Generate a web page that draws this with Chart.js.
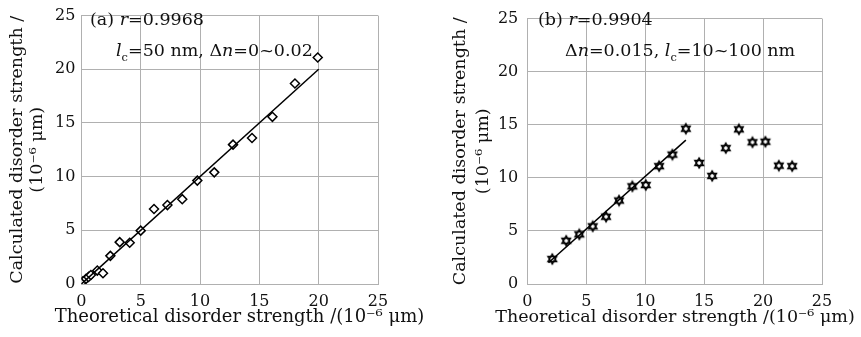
<!DOCTYPE html>
<html><head><meta charset="utf-8">
<script src="https://cdn.jsdelivr.net/npm/chart.js@4"></script>
<style>
html,body{margin:0;padding:0;background:#fff;}
#wrap{position:relative;width:861px;height:337px;overflow:hidden;background:#fff;}
canvas{position:absolute;top:0;}
</style></head><body>
<div id="wrap">
<canvas id="ca" width="430" height="337" style="left:0"></canvas>
<canvas id="cb" width="431" height="337" style="left:430px"></canvas>
</div>
<script>
// ---- data ----
const xTicks = [0, 5, 10, 15, 20, 25];
const yTicks = [0, 5, 10, 15, 20, 25];
const xTitle = 'Theoretical disorder strength /(10\u207B\u2076 \u03BCm)';
const yTitle = ['Calculated disorder strength /', '(10\u207B\u2076 \u03BCm)'];

const aTheoretical = [0.13, 0.39, 0.6, 0.8, 1.34, 1.82, 2.44, 3.23, 4.07, 5.0, 6.12, 7.25, 8.5, 9.77, 11.2, 12.78, 14.38, 16.1, 18.0, 19.92];
const aCalculated  = [0.25, 0.48, 0.66, 0.84, 1.25, 1.0, 2.62, 3.9, 3.84, 4.97, 6.98, 7.35, 7.9, 9.63, 10.4, 12.98, 13.6, 15.57, 18.68, 21.1];
const aFitX = [0, 20];
const aFitY = [0, 20];

const bTheoretical = [2.12, 3.3, 4.41, 5.55, 6.68, 7.78, 8.91, 10.05, 11.18, 12.31, 13.45, 14.58, 15.68, 16.84, 17.95, 19.1, 20.2, 21.34, 22.47];
const bCalculated  = [2.35, 4.07, 4.68, 5.43, 6.34, 7.86, 9.2, 9.32, 11.1, 12.19, 14.63, 11.4, 10.18, 12.8, 14.57, 13.35, 13.4, 11.15, 11.1];
const bFitX = [1.8, 13.45];
const bFitY = [2.0, 13.55];

const aNote1 = [['(a) ', ''], ['r', 'i'], ['=0.9968', '']];
const aNote2 = [['l', 'i'], ['c', 's'], ['=50 nm, \u0394', ''], ['n', 'i'], ['=0~0.02', '']];
const bNote1 = [['(b) ', ''], ['r', 'i'], ['=0.9904', '']];
const bNote2 = [['\u0394', ''], ['n', 'i'], ['=0.015, ', ''], ['l', 'i'], ['c', 's'], ['=10~100 nm', '']];

// ---- styling ----
const FAM = '"DejaVu Serif", "Liberation Serif", serif';
const TXT = '#111';
const GRID = '#b0b0b0';

function pts(xs, ys) { return xs.map((x, i) => ({ x: x, y: ys[i] })); }

function makeStar() {
  const c = document.createElement('canvas');
  c.width = 14; c.height = 14;
  const g = c.getContext('2d');
  const cx = 7, cy = 7, R = 4.9;
  const tris = [];
  for (const off of [-Math.PI / 2, Math.PI / 2]) {
    const p = [];
    for (let k = 0; k < 3; k++) {
      const a = off + k * 2 * Math.PI / 3;
      p.push([cx + R * Math.cos(a), cy + R * Math.sin(a)]);
    }
    tris.push(p);
  }
  g.fillStyle = '#fff';
  for (const p of tris) { g.beginPath(); g.moveTo(p[0][0], p[0][1]); g.lineTo(p[1][0], p[1][1]); g.lineTo(p[2][0], p[2][1]); g.closePath(); g.fill(); }
  g.strokeStyle = '#000'; g.lineWidth = 1.5;
  for (const p of tris) { g.beginPath(); g.moveTo(p[0][0], p[0][1]); g.lineTo(p[1][0], p[1][1]); g.lineTo(p[2][0], p[2][1]); g.closePath(); g.stroke(); }
  return c;
}

function drawRich(ctx, segs, x, y, size) {
  ctx.save();
  ctx.textBaseline = 'middle';
  ctx.textAlign = 'left';
  ctx.fillStyle = TXT;
  let cx = x;
  for (const [t, s] of segs) {
    if (s === 's') {
      ctx.font = (size * 0.65).toFixed(1) + 'px ' + FAM;
      ctx.fillText(t, cx, y + size * 0.38);
    } else {
      ctx.font = (s === 'i' ? 'italic ' : '') + size + 'px ' + FAM;
      ctx.fillText(t, cx, y);
    }
    cx += ctx.measureText(t).width;
  }
  ctx.restore();
}

function notePlugin(cfg) {
  return {
    id: 'note',
    afterDatasetsDraw(chart) {
      const ctx = chart.ctx;
      const ca = chart.chartArea;
      for (const ln of cfg.notes) drawRich(ctx, ln.segs, ca.left + ln.dx, ln.y, 17.5);
      ctx.save();
      ctx.fillStyle = TXT;
      ctx.textAlign = 'center';
      ctx.textBaseline = 'middle';
      ctx.font = cfg.xSize + 'px ' + FAM;
      ctx.fillText(xTitle, cfg.xCenter, cfg.xY);
      ctx.font = cfg.ySize + 'px ' + FAM;
      const cy = (ca.top + ca.bottom) / 2;
      for (let i = 0; i < yTitle.length; i++) {
        ctx.save();
        ctx.translate(cfg.yX[i], cy);
        ctx.rotate(-Math.PI / 2);
        ctx.fillText(yTitle[i], 0, 0);
        ctx.restore();
      }
      ctx.restore();
    }
  };
}

function makeChart(id, xs, ys, fx, fy, pointOpts, yAxisW, padRight, tickPadY, cfg) {
  return new Chart(document.getElementById(id), {
    type: 'scatter',
    data: {
      datasets: [
        { data: pts(fx, fy), showLine: true, borderColor: '#000', borderWidth: 1.5, pointRadius: 0, fill: false },
        Object.assign({ data: pts(xs, ys), showLine: false }, pointOpts)
      ]
    },
    options: {
      responsive: false, animation: false, devicePixelRatio: 1,
      layout: { padding: { left: 0, right: padRight, top: 10, bottom: 0 } },
      plugins: { legend: { display: false }, tooltip: { enabled: false } },
      scales: {
        x: {
          type: 'linear', min: 0, max: 25,
          afterBuildTicks: s => { s.ticks = xTicks.map(v => ({ value: v })); },
          grid: { color: GRID, lineWidth: 1, drawTicks: false },
          border: { color: GRID, width: 1 },
          ticks: { padding: 8, color: TXT, font: { family: FAM, size: 16 }, maxRotation: 0 },
          afterFit: s => { s.height = 53; }
        },
        y: {
          type: 'linear', min: 0, max: 25,
          afterBuildTicks: s => { s.ticks = yTicks.map(v => ({ value: v })); },
          grid: { color: GRID, lineWidth: 1, drawTicks: false },
          border: { color: GRID, width: 1 },
          ticks: { padding: tickPadY, color: TXT, font: { family: FAM, size: 16 } },
          afterFit: s => { s.width = yAxisW; }
        }
      }
    },
    plugins: [notePlugin(cfg)]
  });
}

makeChart('ca', aTheoretical, aCalculated, aFitX, aFitY,
  { pointStyle: 'rectRot', pointRadius: 4.5, borderWidth: 1.5, borderColor: '#000', backgroundColor: '#fff' },
  81.4, 52, 6,
  { notes: [{ segs: aNote1, dx: 8.6, y: 20 }, { segs: aNote2, dx: 34.6, y: 51 }],
    xSize: 18, xCenter: 239.5, xY: 317, ySize: 17.5, yX: [17, 37] });

makeChart('cb', bTheoretical, bCalculated, bFitX, bFitY,
  { pointStyle: makeStar(), pointRadius: 5, borderWidth: 0, borderColor: '#000', backgroundColor: '#000' },
  97.3, 39, 9,
  { notes: [{ segs: bNote1, dx: 10.7, y: 20 }, { segs: bNote2, dx: 37.7, y: 51 }],
    xSize: 17.5, xCenter: 245, xY: 317, ySize: 17.5, yX: [30, 53] });
</script>
</body></html>
